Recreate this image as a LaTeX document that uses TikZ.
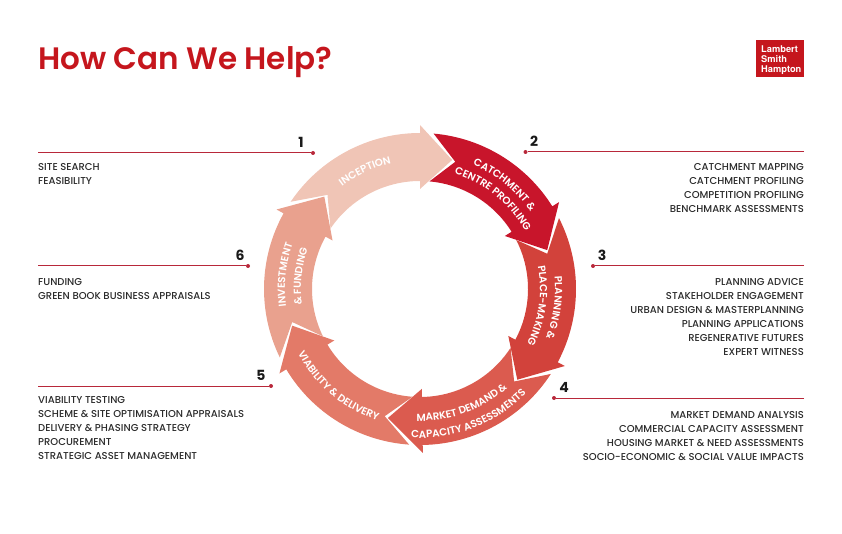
\documentclass[tikz,border=0pt]{standalone}
\usepackage{fontspec}
\setmainfont{Poppins}[UprightFont=* Medium, BoldFont=* SemiBold]
\newfontfamily\logofont{TeX Gyre Heros}
\newfontfamily\numfont{Poppins}
\usetikzlibrary{decorations.text}
\definecolor{lshred}{HTML}{C5161D}
\definecolor{leadred}{HTML}{B8283A}
\definecolor{numtext}{HTML}{1A1A1A}
\definecolor{listtext}{HTML}{2B2B2B}
\definecolor{step1}{HTML}{F0C5B6}
\definecolor{step2}{HTML}{C8152B}
\definecolor{step3}{HTML}{D2423B}
\definecolor{step4}{HTML}{DB5B4F}
\definecolor{step5}{HTML}{E37A68}
\definecolor{step6}{HTML}{E9A18E}
\newcommand{\ringarrow}[5]{
    \fill[#1] (#2-5:156) arc[start angle=#2-5, end angle=#4, radius=156] -- (#4:164) -- (#5:133) -- (#4:100) -- (#4:108)
        arc[start angle=#4, end angle=#2-5, radius=108] -- (#3-1.5:132) -- cycle;
}
\newcommand{\ringlabel}[4]{
    \path[decorate, decoration={text along path, text align=center, text={|\fontsize{10.3}{10}\selectfont\bfseries\color{white}|#4}}]
        (#2:#1) arc[start angle=#2, end angle=#3, radius=#1];
}
\begin{document}
\begin{tikzpicture}[x=1pt, y=1pt,
        title/.style = {anchor=base west, inner sep=0, text=lshred, font=\fontsize{31}{31}\selectfont\bfseries},
        logo/.style = {fill=lshred, minimum width=48, minimum height=37, inner sep=0},
        logotext/.style = {anchor=north west, inner sep=0, text=white, align=left, font=\logofont\fontsize{9.3}{10}\selectfont\bfseries},
        num/.style = {inner sep=0, text=numtext, font=\numfont\fontsize{14}{14}\selectfont\bfseries},
        dot/.style = {circle, fill=leadred, inner sep=0, minimum size=4},
        leader/.style = {draw=leadred, line width=1},
        leftlist/.style = {anchor=north west, inner sep=0, text=listtext, align=left, font=\fontsize{10}{14}\selectfont},
        rightlist/.style = {anchor=north east, inner sep=0, text=listtext, align=right, font=\fontsize{10}{14}\selectfont}]
    \useasboundingbox (0,0) rectangle (842,533);
    \node[title] (title) at (38,463) {How Can We Help?};
    \node[logo] (logo) at (780,474.5) {};
    \node[logotext] (logoname) at (761,487) {Lambert\\Smith\\Hampton};

    \begin{scope}[shift={(420,244)}]
        \ringarrow{step1}{151}{136}{90}{76}
        \ringarrow{step2}{90}{76}{32}{17}
        \ringarrow{step3}{32}{17}{-28}{-43}
        \ringarrow{step4}{-28}{-43}{-89}{-104}
        \ringarrow{step5}{-89}{-104}{-149}{-164}
        \ringarrow{step6}{-149}{-164}{-209}{-224}

        \ringlabel{129}{155}{75}{INCEPTION}
        \ringlabel{135}{91}{11}{CATCHMENT {\&}}
        \ringlabel{120}{96}{6}{CENTRE PROFILING}
        \ringlabel{135}{37}{-53}{PLANNING {\&}}
        \ringlabel{120}{37}{-53}{PLACE-MAKING}
        \ringlabel{132}{-115}{-25}{MARKET DEMAND {\&}}
        \ringlabel{149}{-114}{-24}{CAPACITY ASSESSMENTS}
        \ringlabel{138}{185}{275}{VIABILITY {\&} DELIVERY}
        \ringlabel{135}{219}{129}{INVESTMENT}
        \ringlabel{119}{219}{129}{{\&} FUNDING}
    \end{scope}

    \coordinate (e1) at (38,380);
    \coordinate (e2) at (804,381);
    \coordinate (e3) at (804,267);
    \coordinate (e4) at (804,135);
    \coordinate (e5) at (38,147);
    \coordinate (e6) at (38,267);
    \node[dot] (d1) at (313,380) {};
    \node[dot] (d2) at (525.5,381) {};
    \node[dot] (d3) at (593,267) {};
    \node[dot] (d4) at (554,135) {};
    \node[dot] (d5) at (271,147) {};
    \node[dot] (d6) at (248,267) {};
    \foreach \i in {1,...,6} {
        \draw[leader] (e\i) -- (d\i);
    }
    \node[num] (n1) at (301,391) {1};
    \node[num] (n2) at (534,392) {2};
    \node[num] (n3) at (602,278) {3};
    \node[num] (n4) at (564,146) {4};
    \node[num] (n5) at (261,158) {5};
    \node[num] (n6) at (240,278) {6};

    \node[leftlist] (l1) at (38,369.5) {SITE SEARCH\\FEASIBILITY};
    \node[rightlist] (l2) at (804,369.5) {CATCHMENT MAPPING\\CATCHMENT PROFILING\\COMPETITION PROFILING\\BENCHMARK ASSESSMENTS};
    \node[rightlist] (l3) at (804,254.5) {PLANNING ADVICE\\STAKEHOLDER ENGAGEMENT\\URBAN DESIGN \& MASTERPLANNING\\PLANNING APPLICATIONS\\REGENERATIVE FUTURES\\EXPERT WITNESS};
    \node[rightlist] (l4) at (804,121.5) {MARKET DEMAND ANALYSIS\\COMMERCIAL CAPACITY ASSESSMENT\\HOUSING MARKET \& NEED ASSESSMENTS\\SOCIO-ECONOMIC \& SOCIAL VALUE IMPACTS};
    \node[leftlist] (l5) at (38,136.5) {VIABILITY TESTING\\SCHEME \& SITE OPTIMISATION APPRAISALS\\DELIVERY \& PHASING STRATEGY\\PROCUREMENT\\STRATEGIC ASSET MANAGEMENT};
    \node[leftlist] (l6) at (38,254.5) {FUNDING\\GREEN BOOK BUSINESS APPRAISALS};
\end{tikzpicture}
\end{document}
